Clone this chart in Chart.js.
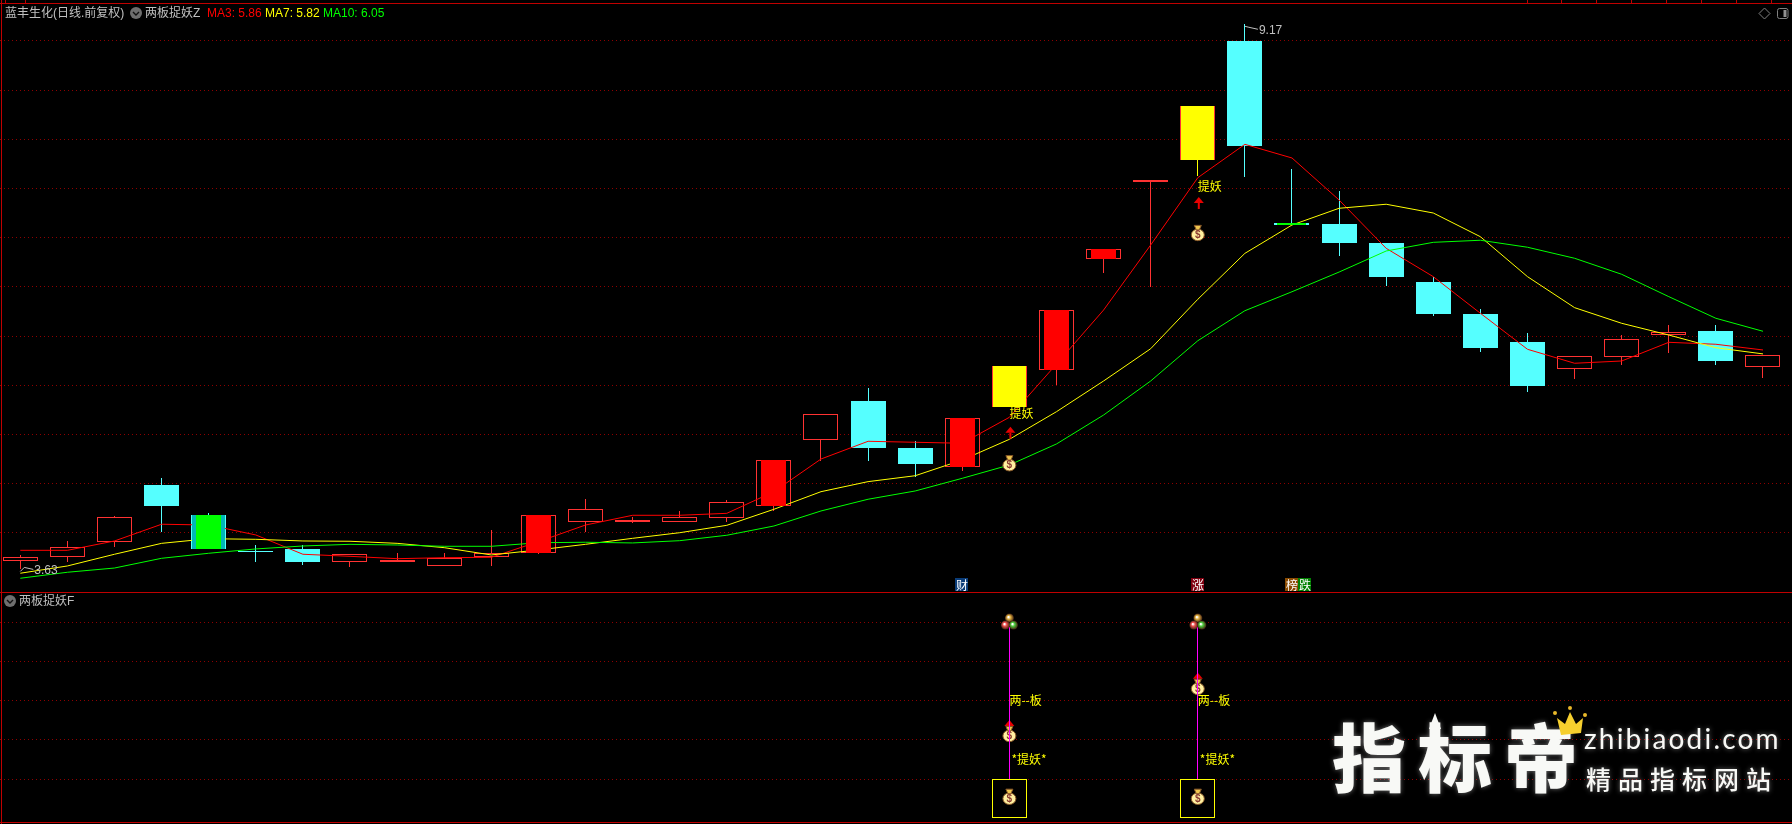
<!DOCTYPE html>
<html lang="zh">
<head>
<meta charset="utf-8">
<title>蓝丰生化 两板捉妖</title>
<script src="https://cdn.jsdelivr.net/npm/chart.js@4/dist/chart.umd.min.js"></script>
<style>
    html, body { margin: 0; width: 1792px; height: 824px; background: #000; overflow: hidden; }
    body { position: relative; font-family: "Liberation Sans", "Noto Sans CJK SC", sans-serif; }
    canvas { position: absolute; left: 0; display: block; }
    #mainChart { top: 0; }
    #subChart { top: 593px; }
    .rule { position: absolute; background: #c00000; }
    .hd { position: absolute; top: 6px; font-size: 12px; line-height: 14px; white-space: nowrap; color: #c0c0c0; }
    svg.ico { position: absolute; overflow: visible; }
    .logo { position: absolute; white-space: nowrap; color: #f8f9f6; font-family: "Noto Sans CJK SC", sans-serif; text-shadow: 0 0 5px rgba(255,255,255,.45); }
</style>
</head>
<body>
<canvas id="mainChart" width="1792" height="593"></canvas>
<canvas id="subChart" width="1792" height="231"></canvas>

<span class="hd" style="left:5px">蓝丰生化(日线.前复权)</span>
<svg class="ico" style="left:130px;top:7px" width="12" height="12"><circle cx="6" cy="6" r="6" fill="#6e6e6e"/><polyline points="3,5 6,8 9,5" fill="none" stroke="#111" stroke-width="1.4"/></svg>
<span class="hd" style="left:145px">两板捉妖Z</span>
<span class="hd" style="left:207px;color:#ff0000">MA3: 5.86</span>
<span class="hd" style="left:265px;color:#ffff00">MA7: 5.82</span>
<span class="hd" style="left:323px;color:#00ff00">MA10: 6.05</span>
<svg class="ico" style="left:1759px;top:8px" width="11" height="11"><polygon points="5.5,0 11,5.5 5.5,11 0,5.5" fill="none" stroke="#808080"/></svg>
<svg class="ico" style="left:1777px;top:8px" width="12" height="11"><rect x=".5" y=".5" width="10.5" height="10" rx="2" fill="none" stroke="#808080"/><rect x="6.5" y="2" width="3" height="7" fill="#909090"/></svg>

<svg class="ico" style="left:4px;top:595px" width="12" height="12"><circle cx="6" cy="6" r="6" fill="#6e6e6e"/><polyline points="3,5 6,8 9,5" fill="none" stroke="#111" stroke-width="1.4"/></svg>
<span class="hd" style="left:19px;top:594px">两板捉妖F</span>

<span class="logo" style="left:1332px;top:699px;font-size:74px;line-height:110px;font-weight:900;letter-spacing:12px">指标帝</span>
<svg class="ico" style="left:1424px;top:713px" width="22" height="18"><polygon points="11,0 17,16 5,16" fill="#f8f9f6"/></svg>
<svg class="ico" style="left:1552px;top:706px" width="36" height="30"><polygon points="5,12 13,18 18,6 24,18 31,12 29,27 9,29" fill="#f6cf2e"/><circle cx="3" cy="7" r="2" fill="#e8b82a"/><circle cx="18" cy="2" r="2" fill="#e8b82a"/><circle cx="33" cy="9" r="2" fill="#e8b82a"/></svg>
<span class="logo" style="left:1584px;top:719px;font-size:28px;line-height:38px;letter-spacing:2.2px;font-family:Lato,sans-serif">zhibiaodi.com</span>
<span class="logo" style="left:1586px;top:760px;font-size:25px;line-height:36px;letter-spacing:7px;font-weight:500">精品指标网站</span>

<script>
// K线数据（从图上读出来的）
const opens  = [3.72, 3.76, 3.91, 4.49, 4.18, 3.82, 3.84, 3.71, 3.71, 3.66, 3.76, 3.80, 4.11, 4.11, 4.11, 4.15, 4.27, 4.95, 5.34, 4.86, 4.67, 5.28, 5.66, 6.78, 7.57, 7.79, 9.00, 7.15, 7.14, 6.95, 6.55, 6.23, 5.94, 5.67, 5.79, 6.01, 6.05, 5.69];
const closes = [3.76, 3.86, 4.16, 4.27, 3.84, 3.82, 3.71, 3.79, 3.73, 3.75, 3.80, 4.18, 4.24, 4.13, 4.16, 4.31, 4.74, 5.21, 4.86, 4.70, 5.17, 5.70, 6.27, 6.89, 7.59, 8.34, 7.93, 7.13, 6.95, 6.60, 6.23, 5.88, 5.49, 5.80, 5.97, 6.04, 5.75, 5.81];
const highs  = [3.78, 3.92, 4.17, 4.56, 4.20, 3.88, 3.88, 3.79, 3.80, 3.80, 4.03, 4.18, 4.35, 4.16, 4.22, 4.34, 4.74, 5.21, 5.47, 4.93, 5.17, 5.70, 6.27, 6.89, 7.59, 8.34, 9.17, 7.70, 7.48, 6.95, 6.60, 6.28, 6.03, 5.80, 6.01, 6.11, 6.11, 5.81];
const lows   = [3.63, 3.71, 3.86, 4.01, 3.84, 3.71, 3.67, 3.65, 3.71, 3.66, 3.66, 3.79, 4.01, 4.10, 4.11, 4.11, 4.22, 4.73, 4.73, 4.57, 4.63, 5.28, 5.50, 6.64, 6.50, 7.63, 7.62, 7.13, 6.82, 6.51, 6.21, 5.84, 5.43, 5.57, 5.71, 5.83, 5.71, 5.58];

const ma3  = [3.824, 3.824, 3.919, 4.089, 4.081, 3.980, 3.784, 3.763, 3.739, 3.749, 3.753, 3.912, 4.081, 4.180, 4.180, 4.200, 4.420, 4.752, 4.932, 4.922, 4.912, 5.176, 5.717, 6.266, 6.927, 7.611, 7.950, 7.811, 7.384, 6.893, 6.605, 6.233, 5.867, 5.725, 5.748, 5.938, 5.918, 5.860];
const ma7  = [3.591, 3.665, 3.784, 3.895, 3.942, 3.936, 3.919, 3.916, 3.895, 3.851, 3.777, 3.828, 3.885, 3.946, 4.003, 4.078, 4.241, 4.420, 4.522, 4.582, 4.742, 4.952, 5.233, 5.545, 5.873, 6.375, 6.842, 7.130, 7.300, 7.341, 7.252, 7.011, 6.605, 6.290, 6.131, 6.012, 5.883, 5.820];
const ma10 = [3.540, 3.601, 3.644, 3.743, 3.794, 3.838, 3.868, 3.885, 3.878, 3.865, 3.865, 3.901, 3.906, 3.899, 3.922, 3.977, 4.071, 4.224, 4.343, 4.427, 4.556, 4.691, 4.905, 5.199, 5.545, 5.954, 6.259, 6.452, 6.652, 6.866, 6.954, 6.975, 6.904, 6.792, 6.629, 6.402, 6.182, 6.050];

// 指标盖色的K线序号
const redBars = [11, 16, 20, 22, 23];
const yellowBars = [21, 25];
const greenBars = [4];
const greenFlatBars = [27];
const tealBars = [4];

// 主图信号：提妖文字、箭头、钱袋所在的价位
const signalBars = [21, 25];
const yaoTextLevels = [5.21, 7.52];
const arrowLevels = [5.08, 7.415];
const bagLevels = [4.71, 7.05];

// 副图信号
const subBagLevels = [2.15, 3.35];
const boxBottom = 0, boxTop = 1, stemTop = 4.87, ballLevel = 5, textBanLevel = 3, textYaoLevel = 1.5, boxBagLevel = 0.55;

// 财 涨 榜跌 小标签
const tagLabels = ['财', '涨', '榜', '跌'];
const tagBars = [20, 25, 27, 27.27];
const tagColors = ['#0a3c78', '#800010', '#8a4a00', '#008000'];

const mainGrid = [9, 8.5, 8, 7.5, 7, 6.5, 6, 5.5, 5, 4.5, 4];
const subGrid = [1, 2, 3, 4, 5];

const indexes = closes.map((_, i) => i);
const RED = '#ff3232', CYAN = '#55ffff';
const isUp = i => closes[i] > opens[i];
const cjkFont = '12px "Noto Sans CJK SC", sans-serif';

// 外框和顶部刻度
[[1, 0, 1, 824], [0, 3, 1792, 1], [0, 592, 1792, 1], [0, 822, 1792, 1]].forEach(addRule);
[5, 25, 1527, 1561, 1596, 1631, 1666, 1701, 1736, 1771].forEach(x => addRule([x, 0, 1, 3]));

function addRule(r) {
    const d = document.createElement('div');
    d.className = 'rule';
    d.style.cssText = `left:${r[0]}px;top:${r[1]}px;width:${r[2]}px;height:${r[3]}px`;
    document.body.appendChild(d);
}

// 让柱子落在整像素上，不然1px的边框会发虚
const snapBars = {
    id: 'snapBars',
    beforeDatasetsDraw(chart) {
        chart.getSortedVisibleDatasetMetas().forEach(meta => {
            if (meta.type !== 'bar') return;
            meta.data.forEach(el => {
                el.x = Math.floor(el.x) + 0.5;
                const top = Math.round(Math.min(el.y, el.base));
                const bottom = Math.round(Math.max(el.y, el.base));
                el.y = top;
                el.base = Math.max(bottom, top + 1);
            });
        });
    }
};

function drawBag(ctx, x, y) {
    ctx.save();
    ctx.fillStyle = '#fff0a0';
    ctx.strokeStyle = '#8a5a28';
    ctx.lineWidth = 1;
    ctx.beginPath();
    ctx.ellipse(x, y + 2, 6.5, 5.8, 0, 0, Math.PI * 2);
    ctx.fill();
    ctx.stroke();
    ctx.fillStyle = '#f0c850';
    ctx.beginPath();
    ctx.moveTo(x - 3.5, y - 7.5);
    ctx.lineTo(x + 3.5, y - 7.5);
    ctx.lineTo(x + 1.5, y - 3);
    ctx.lineTo(x - 1.5, y - 3);
    ctx.closePath();
    ctx.fill();
    ctx.stroke();
    ctx.fillStyle = '#8a3a30';
    ctx.font = 'bold 10px "Liberation Sans"';
    ctx.textAlign = 'center';
    ctx.textBaseline = 'middle';
    ctx.fillText('$', x, y + 2.5);
    ctx.restore();
}

function drawArrow(ctx, x, top) {
    ctx.fillStyle = '#e80000';
    ctx.beginPath();
    ctx.moveTo(x, top);
    ctx.lineTo(x + 5, top + 6);
    ctx.lineTo(x - 5, top + 6);
    ctx.closePath();
    ctx.fill();
    ctx.fillRect(x - 1, top + 6, 2, 6);
}

function drawBalls(ctx, x, y) {
    [[0, -4, '#e0b040'], [-4, 3, '#f05050'], [4, 3, '#50d040']].forEach(b => {
        const g = ctx.createRadialGradient(x + b[0] - 1, y + b[1] - 1, 0.5, x + b[0], y + b[1], 4.5);
        g.addColorStop(0, '#ffffff');
        g.addColorStop(0.35, b[2]);
        g.addColorStop(1, '#402010');
        ctx.fillStyle = g;
        ctx.beginPath();
        ctx.arc(x + b[0], y + b[1], 4.5, 0, Math.PI * 2);
        ctx.fill();
    });
}

// 主图上的 提妖 / 箭头 / 钱袋 / 最高最低价 / 标签
const mainMarks = {
    id: 'mainMarks',
    afterDatasetsDraw(chart) {
        const { ctx, scales: { x, y } } = chart;
        ctx.save();
        ctx.textBaseline = 'middle';
        ctx.textAlign = 'left';
        signalBars.forEach((i, k) => {
            const px = x.getPixelForValue(i);
            ctx.font = cjkFont;
            ctx.fillStyle = '#ffff00';
            ctx.fillText('提妖', px, y.getPixelForValue(yaoTextLevels[k]));
            drawArrow(ctx, px + 1, y.getPixelForValue(arrowLevels[k]));
            drawBag(ctx, px, y.getPixelForValue(bagLevels[k]));
        });

        // 最高价、最低价
        const hi = highs.indexOf(Math.max(...highs));
        const lo = lows.indexOf(Math.min(...lows));
        [[hi, highs[hi], 6], [lo, lows[lo], 1]].forEach(m => {
            const px = x.getPixelForValue(m[0]);
            const py = y.getPixelForValue(m[1]);
            ctx.strokeStyle = '#c0c0c0';
            ctx.lineWidth = 1;
            ctx.beginPath();
            ctx.moveTo(px, py + 2);
            ctx.lineTo(px + 4, py + m[2] - 3);
            ctx.lineTo(px + 13, py + m[2] - 1);
            ctx.stroke();
            ctx.fillStyle = '#c0c0c0';
            ctx.font = '12px "Liberation Sans"';
            ctx.fillText(m[1].toFixed(2), px + 14, py + m[2]);
        });

        // 底部小标签
        ctx.font = cjkFont;
        ctx.textAlign = 'center';
        tagLabels.forEach((t, k) => {
            const px = x.getPixelForValue(tagBars[k]);
            ctx.fillStyle = tagColors[k];
            ctx.fillRect(Math.round(px) - 7, 578, 13, 13);
            ctx.fillStyle = '#ffffff';
            ctx.fillText(t, Math.round(px), 585);
        });
        ctx.restore();
    }
};

// 副图：钱袋放在竖线下面，其余放上面
const subMarksUnder = {
    id: 'subMarksUnder',
    beforeDatasetsDraw(chart) {
        const { ctx, scales: { x, y } } = chart;
        signalBars.forEach((i, k) => {
            const px = x.getPixelForValue(i);
            const py = y.getPixelForValue(subBagLevels[k]);
            drawArrow(ctx, px, py - 14);
            drawBag(ctx, px, py);
            drawBag(ctx, px, y.getPixelForValue(boxBagLevel));
        });
    }
};
const subMarksOver = {
    id: 'subMarksOver',
    afterDatasetsDraw(chart) {
        const { ctx, scales: { x, y } } = chart;
        ctx.save();
        ctx.font = cjkFont;
        ctx.fillStyle = '#ffff00';
        ctx.textAlign = 'left';
        ctx.textBaseline = 'middle';
        signalBars.forEach(i => {
            const px = x.getPixelForValue(i);
            ctx.fillText('两--板', px, y.getPixelForValue(textBanLevel));
            ctx.fillText('*提妖*', px + 2, y.getPixelForValue(textYaoLevel));
            drawBalls(ctx, px, y.getPixelForValue(ballLevel));
            ctx.fillStyle = '#ffff00';
        });
        ctx.restore();
    }
};

function hiddenX() {
    // 第0根K线中心在20.3px，每根间隔47.1px
    return { type: 'linear', display: false, offset: false, min: -20.3 / 47.1, max: (1792 - 20.3) / 47.1, grid: { display: false } };
}

function gridY(min, max, levels) {
    return {
        type: 'linear', min, max,
        afterBuildTicks: scale => { scale.ticks = levels.map(value => ({ value })); },
        ticks: { display: false, autoSkip: false },
        border: { display: false, dash: [1, 3] },
        grid: { color: '#8e0000', lineWidth: 1, drawTicks: false }
    };
}

const barBase = { type: 'bar', grouped: false, inflateAmount: 0, borderSkipped: false };

function overlay(list, color, thickness) {
    return {
        ...barBase,
        order: 1,
        barThickness: thickness,
        backgroundColor: color,
        borderWidth: 0,
        data: list.map(i => ({ x: i, y: [opens[i], closes[i]] }))
    };
}

function maLine(values, color) {
    return {
        type: 'line',
        order: 3,
        borderColor: color,
        borderWidth: 1,
        pointRadius: 0,
        tension: 0,
        data: values.map((v, i) => ({ x: i, y: v }))
    };
}

new Chart(document.getElementById('mainChart'), {
    type: 'bar',
    data: {
        datasets: [
            // 影线
            {
                ...barBase, order: 6, barThickness: 1, borderWidth: 0,
                backgroundColor: indexes.map(i => yellowBars.includes(i) ? '#ffff00' : (isUp(i) ? RED : CYAN)),
                data: indexes.map(i => ({ x: i, y: [lows[i], highs[i]] }))
            },
            // 实体：阳线空心，阴线青色
            {
                ...barBase, order: 5, barThickness: 35, borderWidth: 1,
                backgroundColor: indexes.map(i => isUp(i) ? '#000000' : CYAN),
                borderColor: indexes.map(i => isUp(i) ? RED : CYAN),
                data: indexes.map(i => ({ x: i, y: [opens[i], closes[i]] }))
            },
            maLine(ma10, '#00ff00'),
            maLine(ma7, '#ffff00'),
            maLine(ma3, '#ff0000'),
            { ...overlay(tealBars, '#00b8b8', 33), order: 2 },
            overlay(redBars, '#ff0000', 25),
            overlay(yellowBars, '#ffff00', 33),
            overlay(greenBars, '#00ff00', 25),
            overlay(greenFlatBars, '#00ff00', 29)
        ]
    },
    options: {
        responsive: false,
        animation: false,
        devicePixelRatio: 1,
        events: [],
        layout: { padding: 0 },
        plugins: { legend: { display: false }, tooltip: { enabled: false } },
        scales: { x: hiddenX(), y: gridY(9 + 41 / 98.4 - 593 / 98.4, 9 + 41 / 98.4, mainGrid) }
    },
    plugins: [snapBars, mainMarks]
});

new Chart(document.getElementById('subChart'), {
    type: 'bar',
    data: {
        datasets: [
            {
                ...barBase, barThickness: 1, borderWidth: 0, backgroundColor: '#ff00ff',
                data: signalBars.map(i => ({ x: i, y: [boxTop, stemTop] }))
            },
            {
                ...barBase, barThickness: 35, borderWidth: 1, borderColor: '#ffff00', backgroundColor: 'rgba(0,0,0,0)',
                data: signalBars.map(i => ({ x: i, y: [boxBottom, boxTop] }))
            }
        ]
    },
    options: {
        responsive: false,
        animation: false,
        devicePixelRatio: 1,
        events: [],
        layout: { padding: 0 },
        plugins: { legend: { display: false }, tooltip: { enabled: false } },
        scales: { x: hiddenX(), y: gridY(-0.146, 5.739, subGrid) }
    },
    plugins: [snapBars, subMarksUnder, subMarksOver]
});
</script>
</body>
</html>
